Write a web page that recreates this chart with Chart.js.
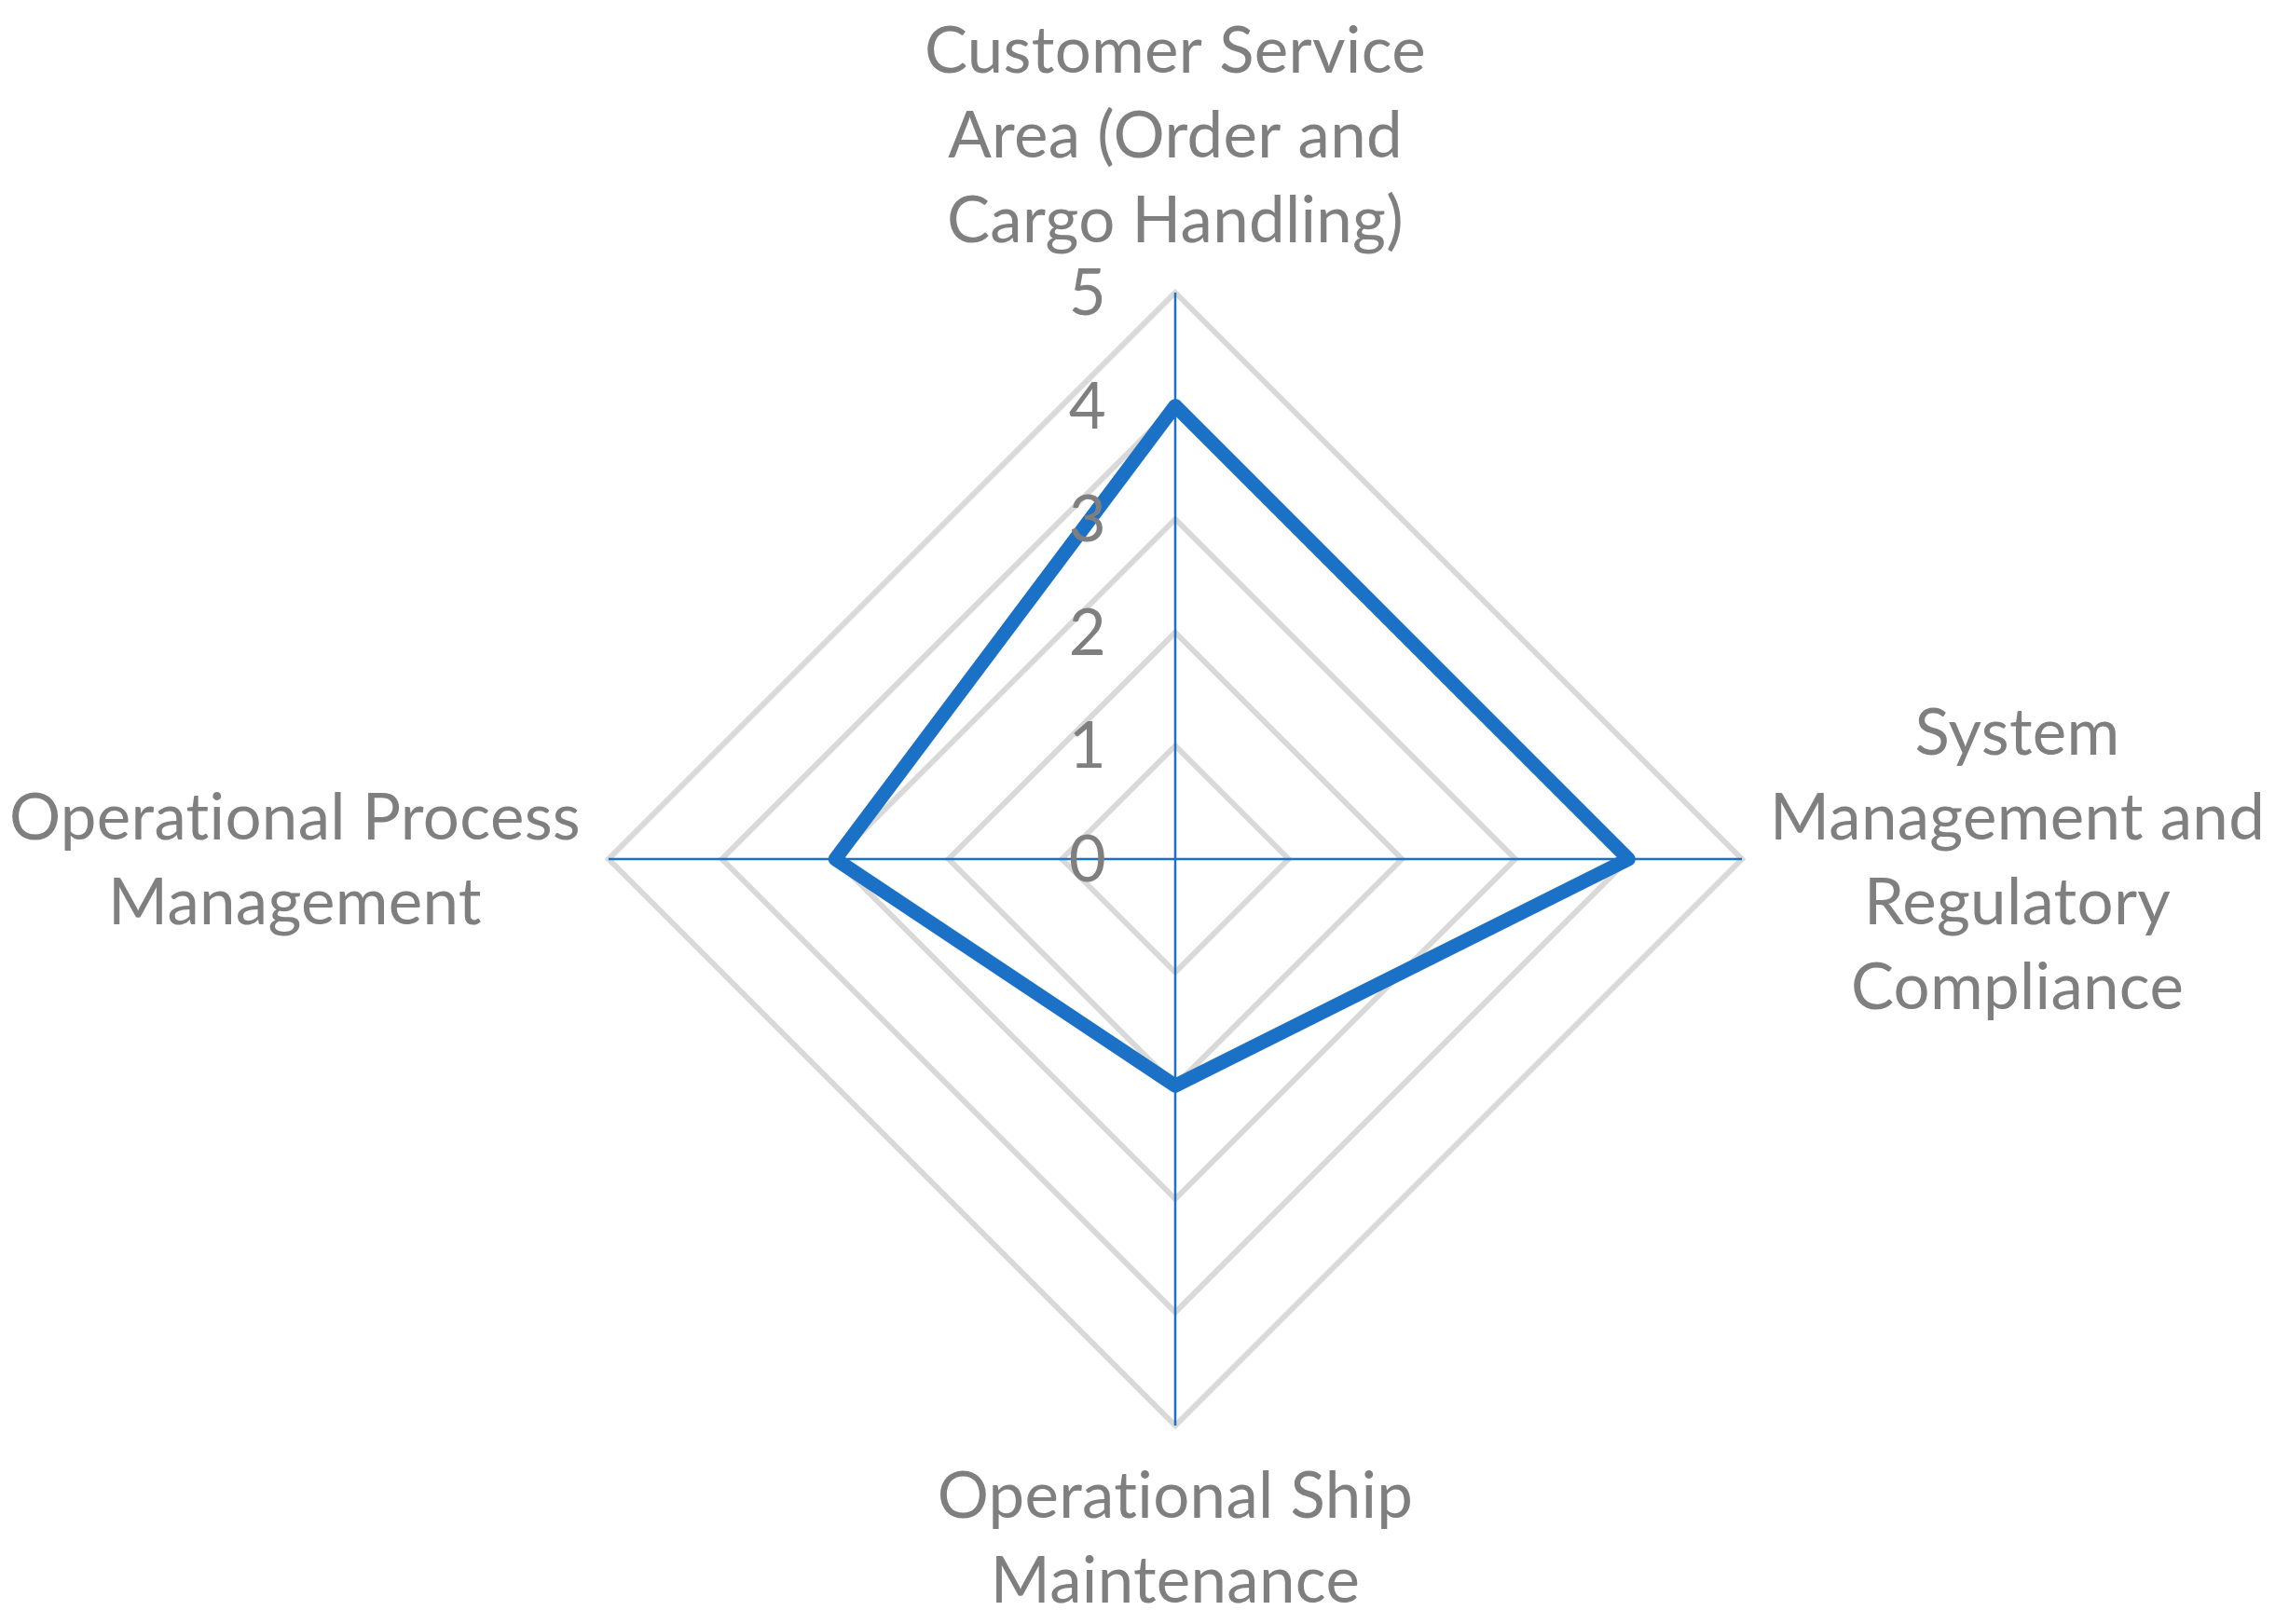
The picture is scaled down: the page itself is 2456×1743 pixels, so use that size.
<!DOCTYPE html>
<html>
<head>
<meta charset="utf-8">
<script src="https://cdn.jsdelivr.net/npm/chart.js@4/dist/chart.umd.min.js"></script>
<style>
  html, body { margin: 0; padding: 0; background: #fff; }
  #wrap { width: 2456px; height: 1743px; }
</style>
</head>
<body>
<div id="wrap"><canvas id="radar" width="2456" height="1743"></canvas></div>
<script>
// categories, clockwise from the top
var categories = [
    ['Customer Service', 'Area (Order and', 'Cargo Handling)'],
    ['System', 'Management and', 'Regulatory', 'Compliance'],
    ['Operational Ship', 'Maintenance'],
    ['Operational Process', 'Management']
];
var scores = [4, 4, 2, 3];
var tickValues = [0, 1, 2, 3, 4, 5];
var tickLabels = ['0', '1', '2', '3', '4', '5'];

var textGrey = '#7f7f7f';
var fontSpec = '69px Lato';

// excel-like labels: ticks left of the axis, category labels as centered blocks
var labelPlugin = {
    id: 'excelLabels',
    afterDatasetsDraw: function (chart) {
        var scale = chart.scales.r;
        var ctx = chart.ctx;
        var lh = 91;
        ctx.save();
        ctx.font = fontSpec;
        // no "ti" ligature, like the original
        if ('textRendering' in ctx) ctx.textRendering = 'optimizeSpeed';
        if ('letterSpacing' in ctx) ctx.letterSpacing = '0.3px';
        ctx.fillStyle = textGrey;
        ctx.textBaseline = 'alphabetic';

        // ticks
        ctx.textAlign = 'center';
        for (var t = 0; t < tickValues.length; t++) {
            var p = scale.getPointPositionForValue(0, tickValues[t]);
            ctx.fillText(tickLabels[t], scale.xCenter - 94, p.y + 24);
        }

        // category labels
        for (var i = 0; i < categories.length; i++) {
            var lines = categories[i];
            var pt = scale.getPointPosition(i, scale.drawingArea);
            var dx = pt.x - scale.xCenter;
            var dy = pt.y - scale.yCenter;
            var maxW = 0;
            lines.forEach(function (s) { maxW = Math.max(maxW, ctx.measureText(s).width); });
            var cx, firstBase;
            if (Math.abs(dx) < 1) {
                cx = pt.x;
                if (dy < 0) {
                    firstBase = pt.y - 54 - (lines.length - 1) * lh;
                } else {
                    firstBase = pt.y + 99;
                }
            } else {
                cx = dx > 0 ? pt.x + 30 + maxW / 2 : pt.x - 30 - maxW / 2;
                firstBase = pt.y + 24 - (lines.length - 1) * lh / 2;
            }
            for (var k = 0; k < lines.length; k++) {
                ctx.fillText(lines[k], cx, firstBase + k * lh);
            }
        }
        ctx.restore();
    }
};

try {
    var ctx = document.getElementById('radar').getContext('2d');
    var chart = new Chart(ctx, {
        type: 'radar',
        data: {
            labels: categories,
            datasets: [{
                data: scores,
                borderColor: '#1a71c6',
                borderWidth: 15,
                borderJoinStyle: 'round',
                fill: false,
                pointRadius: 0,
                pointHoverRadius: 0
            }]
        },
        options: {
            responsive: false,
            animation: false,
            layout: {
                padding: { left: 653, right: 587, top: 314, bottom: 213 }
            },
            plugins: {
                legend: { display: false },
                tooltip: { enabled: false }
            },
            scales: {
                r: {
                    min: 0,
                    max: 5,
                    ticks: { stepSize: 1, display: false },
                    grid: { circular: false, color: '#d9d9d9', lineWidth: 6 },
                    angleLines: { color: '#1a71c6', lineWidth: 2.5 },
                    pointLabels: { display: false }
                }
            }
        },
        plugins: [labelPlugin]
    });
} catch (e) {
    console.log('We have encountered an error: ' + e);
}
</script>
</body>
</html>
